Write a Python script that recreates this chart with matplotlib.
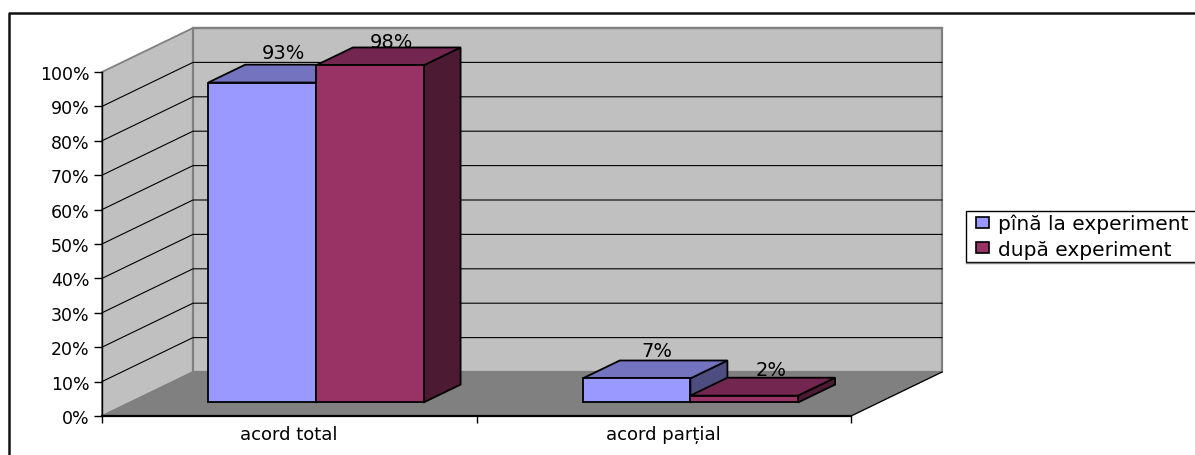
import matplotlib
matplotlib.use('Agg')
import matplotlib.pyplot as plt
from matplotlib.patches import Polygon, Patch, Rectangle
from matplotlib.lines import Line2D

categories = ['acord total', 'acord parțial']
series_names = ['pînă la experiment', 'după experiment']
before = [93, 7]
after = [98, 2]
yticks = [0, 10, 20, 30, 40, 50, 60, 70, 80, 90, 100]
ytick_labels = ['0%', '10%', '20%', '30%', '40%', '50%', '60%', '70%', '80%', '90%', '100%']

# bar colours: front, top, side
colors_before = ('#9999FF', '#7373BF', '#4D4D80')
colors_after = ('#993366', '#732650', '#4D1A33')
wall_color = '#C0C0C0'
floor_color = '#808080'
edge_gray = '#808080'

# nudges for the value labels, in pixels
shift_before = [(3, 12), (2, 9)]
shift_after = [(3, 5), (8, 8)]

W, H = 1195, 456
font = 'DejaVu Sans'
fs = 12.5

fig = plt.figure(figsize=(W / 100, H / 100), dpi=100, facecolor='white')
ax = fig.add_axes([102 / W, (H - 417) / H, 749 / W, 344 / H])
ax.set_xlim(0, 2)
ax.set_ylim(0, 100)
ax.patch.set_visible(False)

# oblique depth: one full depth unit in data coordinates
depth_x = 91 / 374.5
depth_y = 44 / 3.44


def proj(x, v, d):
    return (x + d * depth_x, v + d * depth_y)


def face(pts, color, edge='black', lw=1.3, z=2):
    ax.add_patch(Polygon(pts, closed=True, facecolor=color, edgecolor=edge,
                         linewidth=lw, clip_on=False, zorder=z, joinstyle='miter'))


# walls and floor
face([proj(0, 0, 0), proj(0, 100, 0), proj(0, 100, 1), proj(0, 0, 1)], wall_color, edge_gray, 1.3, 1)
face([proj(0, 0, 1), proj(0, 100, 1), proj(2, 100, 1), proj(2, 0, 1)], wall_color, edge_gray, 1.6, 1)
face([proj(0, 0, 0), proj(2, 0, 0), proj(2, 0, 1), proj(0, 0, 1)], floor_color, floor_color, 0.8, 1)
ax.plot(*zip(proj(2, 0, 0), proj(2, 0, 1)), color='black', lw=0.9, clip_on=False, zorder=1.5)

# gridlines run along the side wall and the back wall
for t in yticks[1:-1]:
    ax.plot(*zip(proj(0, t, 0), proj(0, t, 1), proj(2, t, 1)),
            color='black', lw=0.8, clip_on=False, zorder=1.5)
ax.plot(*zip(proj(0, 100, 1), proj(2, 100, 1)), color=edge_gray, lw=1.6, clip_on=False, zorder=1.5)

d0, d1 = 0.307, 0.714
bar_w = 0.2875
bar_start = 0.209


def bar(x0, val, colors, z):
    x1 = x0 + bar_w
    front, top, side = colors
    face([proj(x1, 0, d0), proj(x1, val, d0), proj(x1, val, d1), proj(x1, 0, d1)], side, z=z)
    face([proj(x0, val, d0), proj(x1, val, d0), proj(x1, val, d1), proj(x0, val, d1)], top, z=z)
    face([proj(x0, 0, d0), proj(x1, 0, d0), proj(x1, val, d0), proj(x0, val, d0)], front, z=z)


for i in range(len(categories)):
    x_a = i + bar_start
    x_b = x_a + bar_w
    bar(x_a, before[i], colors_before, 3)
    bar(x_b, after[i], colors_after, 4)
    for x0, val, shift in ((x_a, before[i], shift_before[i]), (x_b, after[i], shift_after[i])):
        lx, ly = proj(x0 + bar_w / 2, val, (d0 + d1) / 2)
        ax.annotate(f'{val}%', (lx, ly), xytext=shift, textcoords='offset pixels',
                    ha='center', va='bottom', fontsize=14, family=font,
                    color='black', annotation_clip=False, zorder=6)

# axes
ax.set_yticks(yticks)
ax.set_yticklabels(ytick_labels, fontsize=fs, family=font)
ax.set_xticks([0, 1, 2])
ax.set_xticklabels([])
ax.tick_params(axis='y', length=6, width=1, pad=3)
ax.tick_params(axis='x', length=5, width=1)
for i, name in enumerate(categories):
    ax.annotate(name, (i + 0.5, 0), xytext=(0, -18), textcoords='offset pixels',
                ha='center', va='center', fontsize=13, family=font, annotation_clip=False)
for s in ('top', 'right'):
    ax.spines[s].set_visible(False)
ax.spines['left'].set_linewidth(1)
ax.spines['bottom'].set_linewidth(1.6)
ax.spines['left'].set_zorder(2)
ax.spines['bottom'].set_zorder(2)

# legend box runs off the right edge, so it is drawn apart from the legend entries
fig.add_artist(Rectangle((966 / W, 1 - 263 / H), 240 / W, 51 / H, transform=fig.transFigure,
                         facecolor='white', edgecolor='black', linewidth=1, clip_on=False))
fig.add_artist(Line2D([966 / W, 1], [1 - 264 / H, 1 - 264 / H], color=edge_gray, lw=1))
handles = [Patch(facecolor=colors_before[0], edgecolor='black', linewidth=1.2),
           Patch(facecolor=colors_after[0], edgecolor='black', linewidth=1.2)]
leg = fig.legend(handles, series_names, loc='upper left',
                 bbox_to_anchor=(976 / W, 1 - 215 / H), bbox_transform=fig.transFigure,
                 frameon=False, prop={'family': font, 'size': 14.5},
                 borderpad=0, borderaxespad=0,
                 handlelength=0.65, handleheight=0.5, handletextpad=0.45, labelspacing=0.3)
leg.set_zorder(5)

# outer chart frame, open at the right and bottom
fig.add_artist(Line2D([9 / W, 9 / W, 1], [0, 1 - 14 / H, 1 - 14 / H], color='#111111', lw=1.8))

fig.savefig('out.png', dpi=100)
